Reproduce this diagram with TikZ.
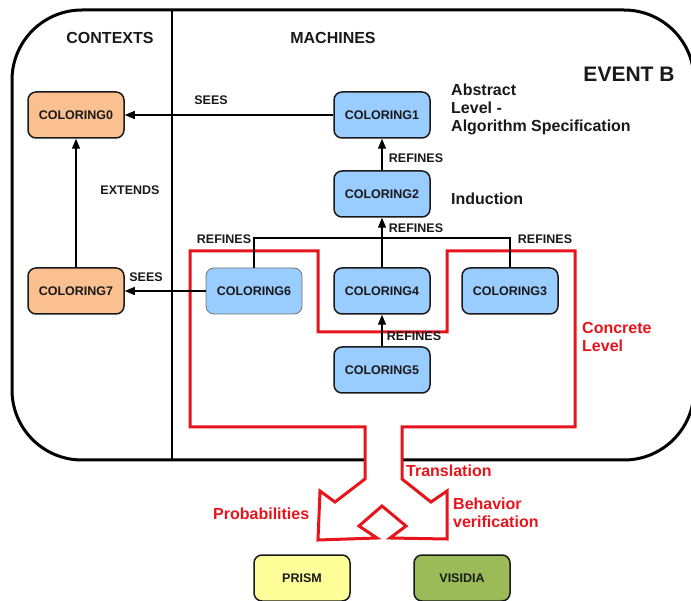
\documentclass[tikz,border=0pt]{standalone}
\usepackage{fontspec}
\setmainfont{Liberation Sans}
\usetikzlibrary{arrows.meta}
\definecolor{ctxorange}{HTML}{FAC090}
\definecolor{machblue}{HTML}{99CCFF}
\definecolor{prismyellow}{HTML}{FFFF99}
\definecolor{visgreen}{HTML}{9BBB59}
\definecolor{concred}{HTML}{E8141C}
\begin{document}
\begin{tikzpicture}[x=1pt, y=-1pt,
    box/.style={draw=black!90, line width=1.5pt, rounded corners=8pt, minimum width=96pt, minimum height=46pt,
      font=\fontsize{12.5}{14}\selectfont\bfseries, text=black!90},
    ctx/.style={box, fill=ctxorange},
    mach/.style={box, fill=machblue},
    lbl/.style={font=\fontsize{12.5}{14}\selectfont\bfseries, text=black!90, inner sep=0pt},
    big/.style={font=\fontsize{16}{18}\selectfont\bfseries, text=black!90, inner sep=0pt, align=left},
    arr/.style={-{Triangle[length=10pt,width=8pt]}, line width=1.3pt}]
  \useasboundingbox (0,0) rectangle (691,601);

  % Event-B frame
  \draw[line width=3pt, rounded corners=70pt] (12,10) rectangle (694,460);
  \draw[line width=2.5pt] (172,10) -- (172,460);

  % concrete level with the translation arrow
  \draw[concred, line width=3pt, fill=white] (190,251) -- (318,251) -- (318,332) -- (447,332) -- (447,251)
    -- (575,251) -- (575,427) -- (402,427) -- (402,479) -- (431,502) -- (447,491) -- (447,539)
    -- (390,538) -- (406,526) -- (382,506) -- (359,526) -- (377,538) -- (318,540) -- (320,491)
    -- (335,502) -- (365,479) -- (365,427) -- (190,427) -- cycle;

  \node[big] (ctxhead) at (110,38) {CONTEXTS};
  \node[big] (machead) at (333,38) {MACHINES};
  \node[font=\fontsize{21}{24}\selectfont\bfseries, text=black!90, inner sep=0pt] (eventb) at (629,74) {EVENT B};

  % contexts
  \node[ctx] (c0) at (76,115) {COLORING0};
  \node[ctx] (c7) at (76,291) {COLORING7};

  % machines
  \node[mach] (m1) at (382,115) {COLORING1};
  \node[mach] (m2) at (382,194) {COLORING2};
  \node[mach, draw=black!55, line width=0.8pt] (m6) at (254,291) {COLORING6};
  \node[mach] (m4) at (382,291) {COLORING4};
  \node[mach] (m3) at (510,291) {COLORING3};
  \node[mach] (m5) at (382,370) {COLORING5};

  % tools
  \node[box, fill=prismyellow] (prism) at (302,578) {PRISM};
  \node[box, fill=visgreen] (visidia) at (462,578) {VISIDIA};

  \draw[arr] (m1) -- (c0);
  \draw[arr] (c7) -- (c0);
  \draw[arr] (m2) -- (m1);
  \draw[arr] (m4) -- (m2);
  \draw[arr] (m5) -- (m4);
  \draw[arr] (m6) -- (c7);
  \coordinate (join) at (382,238);
  \draw[line width=1.3pt] (m6.north) |- (join) -| (m3.north);

  \node[lbl] (sees1) at (211,100) {SEES};
  \node[lbl] (ext) at (130,190) {EXTENDS};
  \node[lbl] (ref1) at (416,158) {REFINES};
  \node[lbl] (ref2) at (416,228) {REFINES};
  \node[lbl] (ref6) at (224,239) {REFINES};
  \node[lbl] (ref3) at (545,239) {REFINES};
  \node[lbl] (ref5) at (414,336) {REFINES};
  \node[lbl] (sees7) at (146,277) {SEES};

  \node[big, anchor=west] (abstract) at (451,109) {Abstract\\Level -\\Algorithm Specification};
  \node[big, anchor=west] (induct) at (451,199) {Induction};
  \node[big, anchor=west, text=concred] (concrete) at (582,337) {Concrete\\Level};
  \node[big, anchor=west, text=concred] (transl) at (406,471) {Translation};
  \node[big, anchor=west, text=concred] (prob) at (213,514) {Probabilities};
  \node[big, anchor=west, text=concred] (behav) at (453,513) {Behavior\\verification};
\end{tikzpicture}
\end{document}
